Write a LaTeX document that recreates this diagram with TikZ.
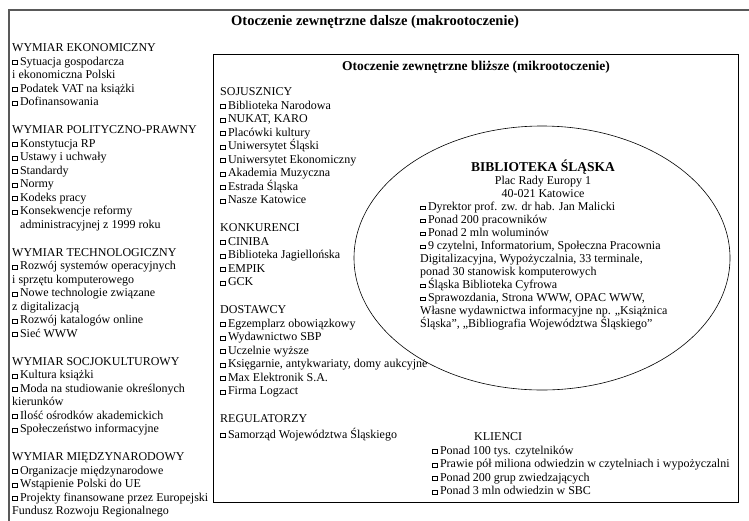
\documentclass[tikz,border=0pt]{standalone}
\usepackage{fontspec}
\setmainfont{Liberation Serif}
\usetikzlibrary{shapes.geometric,positioning}

% small square bullet
\newcommand{\kw}{\raisebox{0.9pt}{\fboxsep=0pt\fboxrule=0.45pt\fbox{\rule{0pt}{3.4pt}\hspace{4.4pt}}}\hspace{2.5pt}}

\tikzset{
  lista/.style={align=left, inner sep=0pt, anchor=north west, font=\fontsize{12}{13.5}\selectfont},
  tytul/.style={inner sep=0pt, font=\fontsize{14.5}{16}\selectfont\bfseries},
  rama/.style={draw, line width=0.8pt, inner sep=0pt, anchor=north west}
}

\begin{document}
\begin{tikzpicture}[x=1pt, y=-1pt]
\useasboundingbox (0,0) rectangle (749,520);
% frames
\draw[line width=1.3pt, black!65] (9,10) rectangle (770,540);
\node[rama, minimum width=525pt, minimum height=448pt] (mikro) at (213,54) {};
\node[tytul] (makroTyt) at (375,22) {Otoczenie zewnętrzne dalsze (makrootoczenie)};
\node[tytul, font=\fontsize{13.5}{15}\selectfont\bfseries] (mikroTyt) at (476,67) {Otoczenie zewnętrzne bliższe (mikrootoczenie)};

% makrootoczenie
\node[lista] (ekon) at (12,42) {\strut WYMIAR EKONOMICZNY\\
\kw Sytuacja gospodarcza\\ i ekonomiczna Polski\\ \kw Podatek VAT na książki\\ \kw Dofinansowania};
\node[lista] (polit) at (12,124) {\strut WYMIAR POLITYCZNO-PRAWNY\\
\kw Konstytucja RP\\ \kw Ustawy i uchwały\\ \kw Standardy\\ \kw Normy\\ \kw Kodeks pracy\\
\kw Konsekwencje reformy\\ \hspace*{8pt}administracyjnej z 1999 roku};
\node[lista] (techn) at (12,246.5) {\strut WYMIAR TECHNOLOGICZNY\\
\kw Rozwój systemów operacyjnych\\ i sprzętu komputerowego\\ \kw Nowe technologie związane\\
z digitalizacją\\ \kw Rozwój katalogów online\\ \kw Sieć WWW};
\node[lista] (socjo) at (12,355.5) {\strut WYMIAR SOCJOKULTUROWY\\
\kw Kultura książki\\ \kw Moda na studiowanie określonych\\ kierunków\\
\kw Ilość ośrodków akademickich\\ \kw Społeczeństwo informacyjne};
\node[lista] (miedzy) at (12,451) {\strut WYMIAR MIĘDZYNARODOWY\\
\kw Organizacje międzynarodowe\\ \kw Wstąpienie Polski do UE\\
\kw Projekty finansowane przez Europejski\\ Fundusz Rozwoju Regionalnego};

% mikrootoczenie
\node[lista] (sojusz) at (220,86) {\strut SOJUSZNICY\\
\kw Biblioteka Narodowa\\ \kw NUKAT, KARO\\ \kw Placówki kultury\\ \kw Uniwersytet Śląski\\
\kw Uniwersytet Ekonomiczny\\ \kw Akademia Muzyczna\\ \kw Estrada Śląska\\ \kw Nasze Katowice};
\node[lista] (konkur) at (220,222) {\strut KONKURENCI\\
\kw CINIBA\\ \kw Biblioteka Jagiellońska\\ \kw EMPIK\\ \kw GCK};
\node[lista] (dostaw) at (220,304) {\strut DOSTAWCY\\
\kw Egzemplarz obowiązkowy\\ \kw Wydawnictwo SBP\\ \kw Uczelnie wyższe\\
\kw Księgarnie, antykwariaty, domy aukcyjne\\ \kw Max Elektronik S.A.\\ \kw Firma Logzact};
\node[lista] (regul) at (220,413) {\strut REGULATORZY\\ \kw Samorząd Województwa Śląskiego};
\node[lista] (klienci) at (432,431) {\strut\hspace*{42pt}KLIENCI\\
\kw Ponad 100 tys. czytelników\\ \kw Prawie pół miliona odwiedzin w czytelniach i wypożyczalni\\
\kw Ponad 200 grup zwiedzających\\ \kw Ponad 3 mln odwiedzin w SBC};

% biblioteka
\node[ellipse, draw, line width=0.6pt, minimum width=376pt, minimum height=264pt] (bibl) at (542,258) {};
\node[align=center, inner sep=0pt, anchor=north, font=\fontsize{12}{13}\selectfont] (biblTyt) at (543,160)
 {\strut{\fontsize{13.5}{13}\selectfont\bfseries BIBLIOTEKA ŚLĄSKA}\\ Plac Rady Europy 1\\ 40-021 Katowice};
\node[lista, font=\fontsize{12}{13}\selectfont] (biblLista) at (420,201) {\strut\kw Dyrektor prof. zw. dr hab. Jan Malicki\\
\kw Ponad 200 pracowników\\ \kw Ponad 2 mln woluminów\\
\kw 9 czytelni, Informatorium, Społeczna Pracownia\\ Digitalizacyjna, Wypożyczalnia, 33 terminale,\\
ponad 30 stanowisk komputerowych\\ \kw Śląska Biblioteka Cyfrowa\\
\kw Sprawozdania, Strona WWW, OPAC WWW,\\ Własne wydawnictwa informacyjne np. „Książnica\\
Śląska”, „Bibliografia Województwa Śląskiego”};
\end{tikzpicture}
\end{document}
